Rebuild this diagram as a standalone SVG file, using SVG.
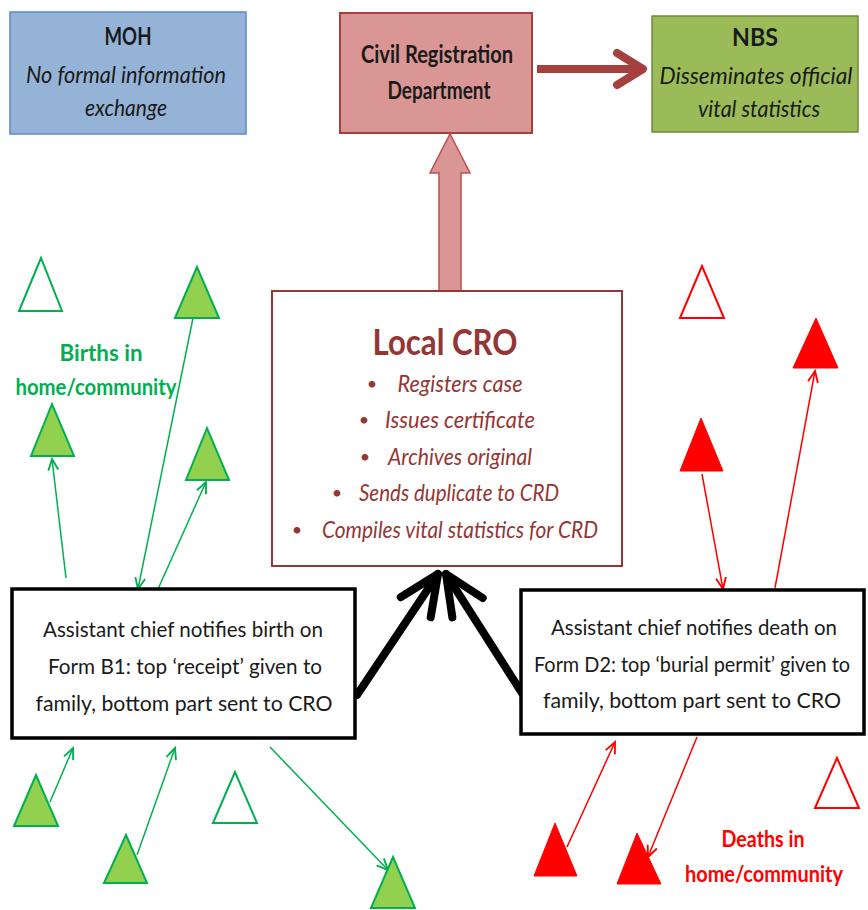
<svg xmlns="http://www.w3.org/2000/svg" width="868" height="910" viewBox="0 0 868 910">
<style>
  text { font-family: Lato, "Open Sans", "Liberation Sans", sans-serif; text-anchor: middle; }
  .b { font-weight: bold; }
  .i { font-style: italic; }
  .dark { fill: #1a1a1a; }
  .cro { fill: #943634; }
  .g { fill: #00b050; }
  .r { fill: #ff0000; }
  .tg { fill: #92d050; stroke: #00b050; stroke-width: 2; }
  .tgo { fill: #ffffff; stroke: #00b050; stroke-width: 2; }
  .tr { fill: #ff0000; stroke: #ff0000; stroke-width: 1; }
  .tro { fill: #ffffff; stroke: #ff0000; stroke-width: 2; }
  .lg { stroke: #00b050; stroke-width: 1.5; fill: none; marker-end: url(#ag); }
  .lr { stroke: #ff0000; stroke-width: 1.5; fill: none; marker-end: url(#ar); }
  .lb { stroke: #000000; stroke-width: 8; fill: none; stroke-linecap: round; marker-end: url(#ab); }
</style>
<defs>
  <marker id="ag" markerUnits="userSpaceOnUse" markerWidth="20" markerHeight="20" viewBox="-12 -8 14 16" refX="0" refY="0" orient="auto">
    <path d="M-9,-4 L0,0 L-9,4" fill="none" stroke="#00b050" stroke-width="1.5"/>
  </marker>
  <marker id="ar" markerUnits="userSpaceOnUse" markerWidth="20" markerHeight="20" viewBox="-12 -8 14 16" refX="0" refY="0" orient="auto">
    <path d="M-9,-4 L0,0 L-9,4" fill="none" stroke="#ff0000" stroke-width="1.5"/>
  </marker>
  <marker id="ab" markerUnits="userSpaceOnUse" markerWidth="60" markerHeight="60" viewBox="-50 -30 60 60" refX="0" refY="0" orient="auto">
    <path d="M-40,-18 L0,0 L-40,18" fill="none" stroke="#000000" stroke-width="8" stroke-linecap="round" stroke-linejoin="round"/>
  </marker>
  <marker id="ad" markerUnits="userSpaceOnUse" markerWidth="50" markerHeight="50" viewBox="-40 -25 50 50" refX="0" refY="0" orient="auto">
    <path d="M-26,-16 L0,0 L-26,16" fill="none" stroke="#a5403e" stroke-width="8" stroke-linecap="round" stroke-linejoin="round"/>
  </marker>
</defs>
<rect width="868" height="910" fill="#ffffff"/>

<g id="connectors">
  <line x1="537" y1="69" x2="643" y2="69" stroke="#a5403e" stroke-width="8" marker-end="url(#ad)"/>
  <polygon points="439,291 461,291 461,173 470,173 450,134 430,173 439,173" fill="#d99694" stroke="#c0504d" stroke-width="1.5"/>
  <line class="lb" x1="357" y1="695" x2="438" y2="574"/>
  <line class="lb" x1="522" y1="693" x2="446" y2="574"/>
  <line class="lg" x1="66" y1="578" x2="52" y2="459"/>
  <line class="lg" x1="193" y1="318" x2="138" y2="589"/>
  <line class="lg" x1="158" y1="589" x2="206" y2="482"/>
  <line class="lg" x1="50" y1="802" x2="73" y2="748"/>
  <line class="lg" x1="137" y1="855" x2="175" y2="748"/>
  <line class="lg" x1="270" y1="747" x2="388" y2="870"/>
  <line class="lr" x1="702" y1="474" x2="723" y2="589"/>
  <line class="lr" x1="775" y1="588" x2="815" y2="371"/>
  <line class="lr" x1="567" y1="847" x2="615" y2="742"/>
  <line class="lr" x1="697" y1="737" x2="648" y2="857"/>
</g>

<g id="moh">
  <rect x="10" y="12" width="236" height="122" fill="#95b3d7" stroke="#5b8bd0" stroke-width="1.5"/>
  <text class="b dark" x="128" y="45" font-size="24" textLength="47" lengthAdjust="spacingAndGlyphs">MOH</text>
  <text class="i dark" x="126" y="83" font-size="24" textLength="200" lengthAdjust="spacingAndGlyphs">No formal information</text>
  <text class="i dark" x="126" y="116" font-size="24" textLength="82" lengthAdjust="spacingAndGlyphs">exchange</text>
</g>

<g id="crd">
  <rect x="340" y="13" width="192" height="120" fill="#d99694" stroke="#a5403e" stroke-width="2"/>
  <text class="b dark" x="437" y="63" font-size="25" textLength="152" lengthAdjust="spacingAndGlyphs">Civil Registration</text>
  <text class="b dark" x="439" y="99" font-size="25" textLength="103" lengthAdjust="spacingAndGlyphs">Department</text>
</g>

<g id="nbs">
  <rect x="652" y="16" width="206" height="116" fill="#9bbb59" stroke="#71893f" stroke-width="1.5"/>
  <text class="b dark" x="755" y="46" font-size="24" textLength="46" lengthAdjust="spacingAndGlyphs">NBS</text>
  <text class="i dark" x="756" y="84" font-size="24" textLength="193" lengthAdjust="spacingAndGlyphs">Disseminates official</text>
  <text class="i dark" x="759" y="117" font-size="24" textLength="122" lengthAdjust="spacingAndGlyphs">vital statistics</text>
</g>

<g id="local-cro">
  <rect x="272" y="291" width="350" height="275" fill="#ffffff" stroke="#953735" stroke-width="2"/>
  <text class="b cro" x="445" y="355" font-size="36" textLength="145" lengthAdjust="spacingAndGlyphs">Local CRO</text>
  <g class="i cro" font-size="23">
    <text x="372" y="390" font-size="18" style="font-style:normal">•</text>
    <text x="460" y="392" textLength="125" lengthAdjust="spacingAndGlyphs">Registers case</text>
    <text x="364" y="426" font-size="18" style="font-style:normal">•</text>
    <text x="460" y="428" textLength="150" lengthAdjust="spacingAndGlyphs">Issues certificate</text>
    <text x="365" y="463" font-size="18" style="font-style:normal">•</text>
    <text x="460" y="465" textLength="144" lengthAdjust="spacingAndGlyphs">Archives original</text>
    <text x="337" y="499" font-size="18" style="font-style:normal">•</text>
    <text x="459" y="501" textLength="200" lengthAdjust="spacingAndGlyphs">Sends duplicate to CRD</text>
    <text x="297" y="536" font-size="18" style="font-style:normal">•</text>
    <text x="460" y="538" textLength="276" lengthAdjust="spacingAndGlyphs">Compiles vital statistics for CRD</text>
  </g>
</g>

<g id="birth-notice">
  <rect x="12" y="589" width="343" height="149" fill="#ffffff" stroke="#000000" stroke-width="3.5"/>
  <g class="dark" font-size="21">
    <text x="183" y="637" textLength="280" lengthAdjust="spacingAndGlyphs">Assistant chief notifies birth on</text>
    <text x="185" y="674" textLength="274" lengthAdjust="spacingAndGlyphs">Form B1: top ‘receipt’ given to</text>
    <text x="184" y="711" textLength="297" lengthAdjust="spacingAndGlyphs">family,  bottom part sent  to CRO</text>
  </g>
</g>

<g id="death-notice">
  <rect x="521" y="590" width="343" height="144" fill="#ffffff" stroke="#000000" stroke-width="3.5"/>
  <g class="dark" font-size="21">
    <text x="694" y="635" textLength="286" lengthAdjust="spacingAndGlyphs">Assistant chief notifies death on</text>
    <text x="692" y="672" textLength="316" lengthAdjust="spacingAndGlyphs">Form D2: top ‘burial permit’ given to</text>
    <text x="692" y="708" textLength="298" lengthAdjust="spacingAndGlyphs">family, bottom  part sent to  CRO</text>
  </g>
</g>

<g id="births-label">
  <text class="b g" x="101" y="361" font-size="22" textLength="83" lengthAdjust="spacingAndGlyphs">Births in</text>
  <text class="b g" x="96" y="395" font-size="22" textLength="161" lengthAdjust="spacingAndGlyphs">home/community</text>
</g>

<g id="deaths-label">
  <text class="b r" x="763" y="847" font-size="22" textLength="83" lengthAdjust="spacingAndGlyphs">Deaths in</text>
  <text class="b r" x="764" y="882" font-size="22" textLength="158" lengthAdjust="spacingAndGlyphs">home/community</text>
</g>

<g id="births">
  <polygon class="tgo" points="41,258 19,311 62,311"/>
  <polygon class="tg" points="197,267 175,318 219,318"/>
  <polygon class="tg" points="52,404 31,456 74,456"/>
  <polygon class="tg" points="207,428 186,480 229,480"/>
  <polygon class="tg" points="36,775 14,826 58,826"/>
  <polygon class="tg" points="126,835 104,883 147,883"/>
  <polygon class="tgo" points="235,772 213,823 257,823"/>
  <polygon class="tg" points="393,857 371,908 415,908"/>
</g>

<g id="deaths">
  <polygon class="tro" points="702,266 680,318 724,318"/>
  <polygon class="tr" points="816,318 793,368 838,368"/>
  <polygon class="tr" points="701,418 680,471 723,471"/>
  <polygon class="tr" points="555,823 534,876 577,876"/>
  <polygon class="tr" points="637,833 617,884 661,884"/>
  <polygon class="tro" points="837,758 815,808 859,808"/>
</g>
</svg>
